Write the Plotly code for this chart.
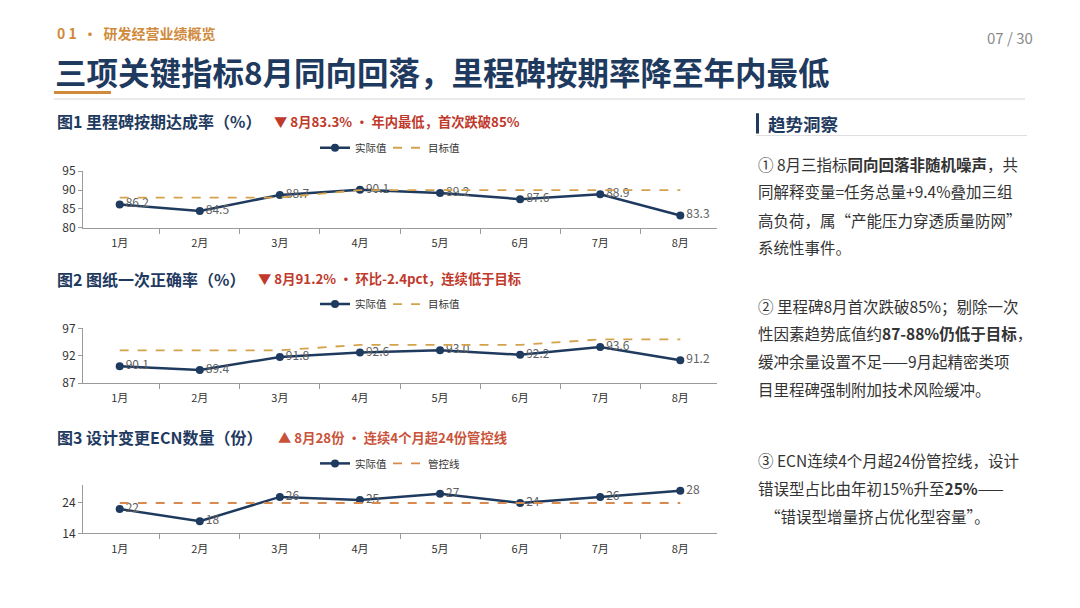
import plotly.graph_objects as go

# page body has an 8px margin, so the figure is a bit smaller than the window
PAD = 8
W, H = 1080 - 2 * PAD, 608 - 2 * PAD
FONT = "Noto Sans CJK SC"
NAVY = "#1F3A5F"
GOLD = "#D4A24C"
ORANGE = "#D98A4E"
RED = "#C0392B"

months = ["1月", "2月", "3月", "4月", "5月", "6月", "7月", "8月"]

# 图1 里程碑按期达成率
milestone_actual = [86.2, 84.5, 88.7, 90.1, 89.2, 87.6, 88.9, 83.3]
milestone_target = [88, 88, 88, 90, 90, 90, 90, 90]

# 图2 图纸一次正确率
drawing_actual = [90.1, 89.4, 91.8, 92.6, 93.0, 92.2, 93.6, 91.2]
drawing_target = [93, 93, 93, 94, 94, 94, 95, 95]

# 图3 设计变更ECN数量
ecn_actual = [22, 18, 26, 25, 27, 24, 26, 28]
ecn_limit = [24, 24, 24, 24, 24, 24, 24, 24]

def py(p):
    # screen pixel row -> paper y (small correction measured on the render)
    q = (p - 11.5) / 0.957
    return 1 - (q - PAD) / H

def px_(p):
    return (p - PAD) / W

fig = go.Figure()

charts = [
    # actual, target, target name, axis suffix, y range, dtick, label fmt, top px, bottom px, target color
    (milestone_actual, milestone_target, "目标值", "", [80, 95], 5, "{:.1f}", 170, 226, GOLD),
    (drawing_actual, drawing_target, "目标值", "2", [87, 97], 5, "{:.1f}", 325, 379, GOLD),
    (ecn_actual, ecn_limit, "管控线", "3", [14, 30], 10, "{:d}", 479, 527, ORANGE),
]
legend_y = [147, 301, 458]

for n, (act, tgt, tname, sfx, yr, dt, fmt, top, bot, tcol) in enumerate(charts):
    legend_id = "legend" + sfx
    fig.add_trace(go.Scatter(
        x=months, y=act, name="实际值", mode="lines+markers+text",
        line=dict(color=NAVY, width=2.5),
        marker=dict(color=NAVY, size=8),
        text=[fmt.format(v) for v in act],
        textposition="middle right",
        textfont=dict(family=FONT, size=12, color="#616161"),
        xaxis="x" + sfx, yaxis="y" + sfx, legend=legend_id,
    ))
    fig.add_trace(go.Scatter(
        x=months, y=tgt, name=tname, mode="lines",
        line=dict(color=tcol, width=1.8, dash="dash"),
        xaxis="x" + sfx, yaxis="y" + sfx, legend=legend_id,
    ))
    fig.update_layout(**{
        "xaxis" + sfx: dict(
            domain=[px_(83), px_(717)], anchor="y" + sfx,
            showline=True, linecolor="#9A9A9A", linewidth=1,
            ticks="outside", ticklen=5, tickcolor="#9A9A9A",
            tickson="boundaries", showgrid=False, ticklabelstandoff=5,
            tickfont=dict(family=FONT, size=11, color="#333333"),
        ),
        "yaxis" + sfx: dict(
            domain=[py(bot), py(top)], anchor="x" + sfx,
            range=yr, dtick=dt, tick0=yr[0],
            showline=True, linecolor="#9A9A9A", linewidth=1,
            ticks="outside", ticklen=4, tickcolor="#9A9A9A",
            showgrid=False, zeroline=False,
            tickfont=dict(family=FONT, size=12, color="#333333"),
        ),
        legend_id: dict(
            orientation="h", x=px_(388), xanchor="center",
            y=py(legend_y[n]), yanchor="middle",
            font=dict(family=FONT, size=10.5, color="#333333"),
            bgcolor="rgba(0,0,0,0)", entrywidth=28, entrywidthmode="pixels",
            itemwidth=30, tracegroupgap=0,
        ),
    })

annotations = [
    dict(x=px_(55), y=py(34), text="<b>0 1  •  研发经营业绩概览</b>",
         font=dict(family=FONT, size=14, color="#D08A3C")),
    dict(x=px_(1035), y=py(38), text="07 / 30", xanchor="right",
         font=dict(family=FONT, size=15, color="#8A8A8A")),
    dict(x=px_(53), y=py(71), text="<b>三项关键指标8月同向回落，里程碑按期率降至年内最低</b>",
         font=dict(family=FONT, size=31.5, color=NAVY)),
    dict(x=px_(55), y=py(121), text="<b>图1 里程碑按期达成率（%）</b>",
         font=dict(family=FONT, size=16, color=NAVY)),
    dict(x=px_(272), y=py(121), text="<b>▼ 8月83.3% • 年内最低，首次跌破85%</b>",
         font=dict(family=FONT, size=13.3, color=RED)),
    dict(x=px_(55), y=py(276), text="<b>图2 图纸一次正确率（%）</b>",
         font=dict(family=FONT, size=16, color=NAVY)),
    dict(x=px_(256), y=py(276), text="<b>▼ 8月91.2% • 环比-2.4pct，连续低于目标</b>",
         font=dict(family=FONT, size=13.3, color=RED)),
    dict(x=px_(55), y=py(432), text="<b>图3 设计变更ECN数量（份）</b>",
         font=dict(family=FONT, size=16, color=NAVY)),
    dict(x=px_(276), y=py(432), text="<b>▲ 8月28份 • 连续4个月超24份管控线</b>",
         font=dict(family=FONT, size=13.3, color="#C9533A")),
    dict(x=px_(766), y=py(123), text="<b>趋势洞察</b>",
         font=dict(family=FONT, size=17.5, color=NAVY)),
]

insight_lines = [
    (163, "① 8月三指标<b>同向回落非随机噪声</b>，共"),
    (190, "同解释变量=任务总量+9.4%叠加三组"),
    (218, "高负荷，属“产能压力穿透质量防网”"),
    (245, "系统性事件。"),
    (303, "② 里程碑8月首次跌破85%；剔除一次"),
    (330, "性因素趋势底值约<b>87-88%仍低于目标</b>，"),
    (357, "缓冲余量设置不足——9月起精密类项"),
    (385, "目里程碑强制附加技术风险缓冲。"),
    (455, "③ ECN连续4个月超24份管控线，设计"),
    (482, "错误型占比由年初15%升至<b>25%</b>——"),
    (510, "  “错误型增量挤占优化型容量”。"),
]
for yy, t in insight_lines:
    annotations.append(dict(x=px_(756), y=py(yy), text=t,
                            font=dict(family=FONT, size=15.5, color="#333333")))

for a in annotations:
    a.setdefault("xanchor", "left")
    a.update(xref="paper", yref="paper", yanchor="middle", showarrow=False)

shapes = [
    dict(type="rect", x0=px_(54), x1=px_(111), y0=py(94), y1=py(91),
         fillcolor="#D08A3C", line_width=0),
    dict(type="line", x0=px_(54), x1=px_(1025), y0=py(99), y1=py(99),
         line=dict(color="#D6D6D6", width=1)),
    dict(type="rect", x0=px_(756), x1=px_(759), y0=py(133), y1=py(113),
         fillcolor=NAVY, line_width=0),
    dict(type="line", x0=px_(756), x1=px_(1027), y0=py(135), y1=py(135),
         line=dict(color="#DDDDDD", width=1)),
]
for s in shapes:
    s.update(xref="paper", yref="paper")

fig.update_layout(
    width=W, height=H,
    margin=dict(l=0, r=0, t=0, b=0),
    paper_bgcolor="white", plot_bgcolor="white",
    font=dict(family=FONT),
    annotations=annotations, shapes=shapes,
    showlegend=True,
)

fig.write_html("out.html")
